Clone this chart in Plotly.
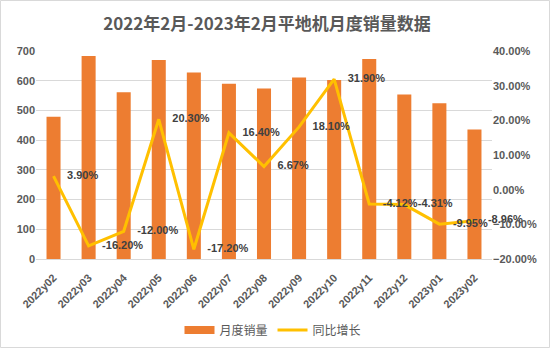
import plotly.graph_objects as go

months = ["2022y02", "2022y03", "2022y04", "2022y05", "2022y06", "2022y07", "2022y08",
          "2022y09", "2022y10", "2022y11", "2022y12", "2023y01", "2023y02"]
sales = [479, 683, 561, 670, 628, 590, 574, 611, 602, 673, 554, 524, 436]
yoy = [3.90, -16.20, -12.00, 20.30, -17.20, 16.40, 6.67, 18.10, 31.90, -4.12, -4.31, -9.95, -8.96]
yoy_labels = [f"{v:.2f}%" for v in yoy]

W, H = 550, 350
L, R, T, B = 36, 58, 51, 91
pw, ph = W - L - R, H - T - B

BAR_COLOR = "#ED7D31"
LINE_COLOR = "#FFC000"

fig = go.Figure()
fig.add_trace(go.Bar(x=months, y=sales, name="月度销量", marker=dict(color=BAR_COLOR, line=dict(width=0)),
                     yaxis="y", showlegend=False, legendgroup="sales"))
# legend-only entry giving the wide rectangular swatch of the bar series
fig.add_trace(go.Scatter(x=[None], y=[None], name="月度销量", mode="lines", legendgroup="sales",
                         line=dict(color=BAR_COLOR, width=8), yaxis="y", hoverinfo="skip"))
fig.add_trace(go.Scatter(x=months, y=yoy, name="同比增长", mode="lines",
                         line=dict(color=LINE_COLOR, width=3), yaxis="y2"))
fig.add_trace(go.Scatter(x=months, y=yoy, mode="markers+text", text=yoy_labels, textposition="middle right",
                         marker=dict(size=20, opacity=0), showlegend=False, hoverinfo="skip",
                         cliponaxis=False,
                         textfont=dict(family="Liberation Sans, Arial", size=11, color="#404040", weight="bold"),
                         yaxis="y2"))

tickfont = dict(family="Liberation Sans, Arial", size=11, color="#595959", weight="bold")
fig.update_layout(
    width=W, height=H,
    margin=dict(l=L, r=R, t=T, b=B, autoexpand=False),
    paper_bgcolor="white", plot_bgcolor="white",
    bargap=0.6,
    title=dict(text="<b>2022年2月-2023年2月平地机月度销量数据</b>", x=267 / W, xanchor="center",
               y=1 - 24 / H, yanchor="middle",
               font=dict(family="Noto Sans CJK SC", size=17, color="#595959")),
    xaxis=dict(tickangle=-45, tickfont=tickfont, showline=True, linecolor="#D9D9D9", linewidth=1,
               showgrid=False, ticks="", ticklabelstandoff=7, range=[-0.5, len(months) - 0.5],
               autorange=False),
    yaxis=dict(range=[0, 700], dtick=100, tickfont=tickfont, gridcolor="#D9D9D9", gridwidth=1,
               zeroline=False, showline=False, ticks=""),
    yaxis2=dict(range=[-20, 40], dtick=10, overlaying="y", side="right", tickformat=".2f", ticksuffix="%",
                tickfont=tickfont, showgrid=False, zeroline=False, showline=False, ticks=""),
    legend=dict(orientation="h", x=(273 - L) / pw, xanchor="center", y=(259 - 330) / ph,
                yanchor="middle", font=dict(family="Noto Sans CJK SC", size=12, color="#595959"),
                bgcolor="rgba(0,0,0,0)", itemwidth=30, tracegroupgap=0),
    showlegend=True,
    shapes=[dict(type="rect", xref="paper", yref="paper",
                 x0=(0.5 - L) / pw, x1=(W - 0.5 - L) / pw,
                 y0=(259 - (H - 2.5)) / ph, y1=(259 - 0.5) / ph,
                 line=dict(color="#D9D9D9", width=1), layer="below")],
)

fig.write_html("out.html")
